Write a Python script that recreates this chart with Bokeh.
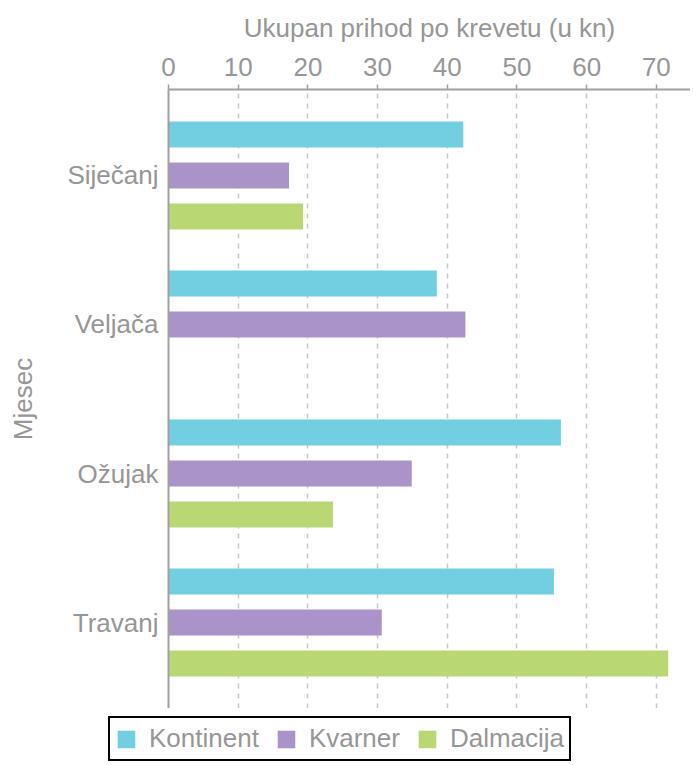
from bokeh.plotting import figure
from bokeh.layouts import column
from bokeh.models import ColumnDataSource, FactorRange, FixedTicker, Legend, LegendItem, Range1d
from bokeh.transform import dodge
from bokeh.embed import file_html
from bokeh.resources import INLINE

months = ["Siječanj", "Veljača", "Ožujak", "Travanj"]
kontinent = [42.3, 38.5, 56.3, 55.3]
kvarner = [17.3, 42.6, 34.9, 30.6]
dalmacija = [19.3, 0.0, 23.6, 71.7]
series_names = ["Kontinent", "Kvarner", "Dalmacija"]
colors = ["#72CEE1", "#AA93C8", "#B9D874"]
x_ticks = [0, 10, 20, 30, 40, 50, 60, 70]

FONT = "Liberation Sans"
TXT = "#969696"
AX = "#a0a0a0"

src = ColumnDataSource(dict(month=months, Kontinent=kontinent, Kvarner=kvarner, Dalmacija=dalmacija))

p = figure(width=690, height=708, output_backend="svg", toolbar_location=None,
           y_range=FactorRange(*months[::-1], range_padding=0.077, range_padding_units="absolute"),
           x_range=Range1d(0, 74.9), x_axis_location="above",
           min_border_left=168, min_border_right=0, min_border_top=89, min_border_bottom=0)
p.frame_align = False
p.outline_line_color = None
p.background_fill_color = "white"
p.border_fill_color = "white"

offsets = [0.275, 0.0, -0.275]
for name, col, off in zip(series_names, colors, offsets):
    p.hbar(y=dodge("month", off, range=p.y_range), right=name, left=0, height=0.175,
           source=src, fill_color=col, line_color=None)

xa = p.xaxis[0]
xa.ticker = FixedTicker(ticks=x_ticks)
xa.axis_label = "Ukupan prihod po krevetu (u kn)"
xa.axis_label_text_font = FONT
xa.axis_label_text_font_size = "26px"
xa.axis_label_text_font_style = "normal"
xa.axis_label_text_color = TXT
xa.axis_label_standoff = 12
xa.major_label_text_font = FONT
xa.major_label_text_font_size = "26px"
xa.major_label_text_color = TXT
xa.major_label_standoff = 9
xa.axis_line_color = AX
xa.axis_line_width = 2
xa.major_tick_line_color = AX
xa.major_tick_line_width = 1.5
xa.major_tick_out = 5
xa.major_tick_in = 0
xa.minor_tick_line_color = None

ya = p.yaxis[0]
ya.axis_label = "Mjesec"
ya.axis_label_text_font = FONT
ya.axis_label_text_font_size = "26px"
ya.axis_label_text_font_style = "normal"
ya.axis_label_text_color = TXT
ya.axis_label_standoff = 26
ya.major_label_text_font = FONT
ya.major_label_text_font_size = "26px"
ya.major_label_text_color = TXT
ya.major_label_standoff = 4
ya.axis_line_color = AX
ya.axis_line_width = 2
ya.major_tick_line_color = None
ya.minor_tick_line_color = None

p.ygrid.grid_line_color = None
p.xgrid.grid_line_color = "#c8c8c8"
p.xgrid.grid_line_width = 1.5
p.xgrid.grid_line_dash = "5 5"

# legend strip below the chart (its bars fall outside its numeric range, only the legend shows)
lg = figure(width=690, height=54, output_backend="svg", toolbar_location=None,
            x_range=Range1d(0, 1), y_range=Range1d(0, 1),
            x_axis_type=None, y_axis_type=None,
            min_border_left=0, min_border_right=0, min_border_top=0, min_border_bottom=0)
lg.frame_align = False
lg.outline_line_color = None
lg.xgrid.visible = False
lg.ygrid.visible = False
items = []
for name, col in zip(series_names, colors):
    r = lg.hbar(y="month", right=name, left=0, height=0.1, source=src,
                fill_color=col, line_color=None)
    items.append(LegendItem(label=name, renderers=[r]))

legend = Legend(items=items, orientation="horizontal", location=(108, 1),
                label_text_font=FONT, label_text_font_size="26px", label_text_color=TXT,
                glyph_width=22, glyph_height=22, label_standoff=12, spacing=16, label_height=26,
                padding=5, margin=0, border_line_color="black", border_line_alpha=1.0,
                border_line_width=2.5, background_fill_alpha=1.0)
lg.add_layout(legend, "center")

layout = column(p, lg, spacing=0)
open("out.html", "w").write(file_html(layout, INLINE))
